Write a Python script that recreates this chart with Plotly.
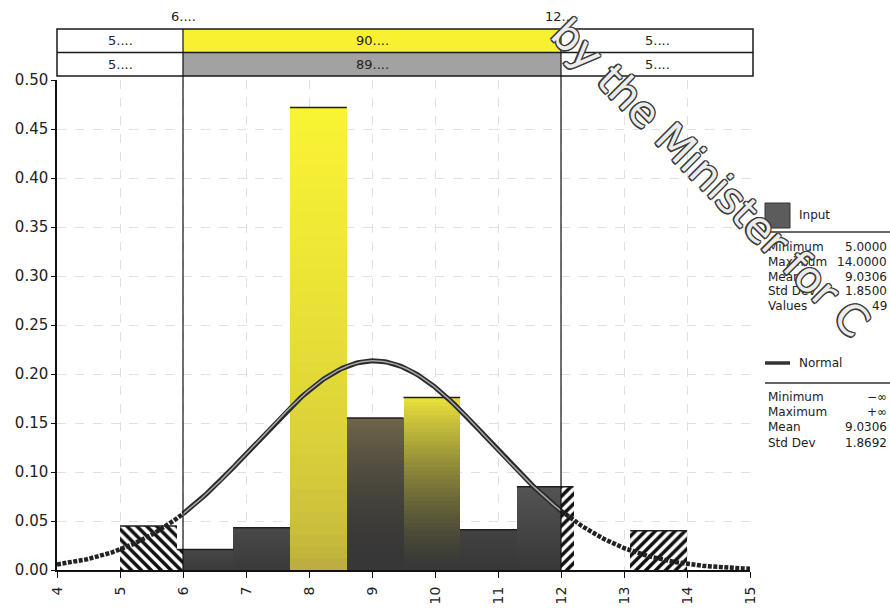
import numpy as np
import plotly.graph_objects as go

# ---- data -------------------------------------------------------------
bin_edges = [5.0, 5.9, 6.8, 7.7, 8.6, 9.5, 10.4, 11.3, 12.2, 13.1, 14.0]
bin_heights = [0.045, 0.021, 0.043, 0.472, 0.155, 0.176, 0.041, 0.085, 0.0, 0.040]

left_delimiter = 6.0
right_delimiter = 12.0
delimiter_labels = ["6....", "12...."]

band_row1_labels = ["5....", "90....", "5...."]
band_row2_labels = ["5....", "89....", "5...."]

normal_mean = 9.0306
normal_sd = 1.8692

x_ticks = [4, 5, 6, 7, 8, 9, 10, 11, 12, 13, 14, 15]
y_ticks = [0.00, 0.05, 0.10, 0.15, 0.20, 0.25, 0.30, 0.35, 0.40, 0.45, 0.50]

input_stat_names = ["Minimum", "Maximum", "Mean", "Std Dev", "Values"]
input_stat_values = ["5.0000", "14.0000", "9.0306", "1.8500", "49"]
normal_stat_names = ["Minimum", "Maximum", "Mean", "Std Dev"]
normal_stat_values = ["\u2212\u221e", "+\u221e", "9.0306", "1.8692"]

watermark_text = "by the Minister for C"

# ---- styles -----------------------------------------------------------
FONT = "DejaVu Sans"
TXT = "#222222"
# (bottom rgb, top rgb, gamma) for the solid part of each bin
bin_fill_styles = [
    ((58, 58, 58), (72, 72, 72), 1.0),
    ((58, 58, 58), (72, 72, 72), 1.0),
    ((58, 58, 58), (74, 74, 74), 1.0),
    ((178, 163, 66), (250, 244, 52), 0.45),
    ((55, 55, 55), (112, 102, 74), 1.8),
    ((56, 56, 56), (236, 226, 60), 1.4),
    ((56, 56, 56), (66, 66, 66), 1.0),
    ((56, 56, 56), (84, 84, 84), 1.0),
    ((56, 56, 56), (70, 70, 70), 1.0),
    ((56, 56, 56), (70, 70, 70), 1.0),
]
N_SEG = 40

PLOT_L, PLOT_R, PLOT_T, PLOT_B = 57, 750, 80, 570
W, H = 890, 608


def px_x(px):
    return (px - PLOT_L) / (PLOT_R - PLOT_L)


def px_y(py):
    return (PLOT_B - py) / (PLOT_B - PLOT_T)


fig = go.Figure()

# ---- histogram bars: split by the delimiters --------------------------
hatch_l = dict(x=[], y=[], w=[])
hatch_r = dict(x=[], y=[], w=[])
grad = dict(x=[], base=[], y=[], w=[], c=[])

for i in range(len(bin_heights)):
    lo, hi, h = bin_edges[i], bin_edges[i + 1], bin_heights[i]
    if h <= 0:
        continue
    if lo < left_delimiter:
        a, b = lo, min(hi, left_delimiter)
        hatch_l["x"].append((a + b) / 2); hatch_l["y"].append(h); hatch_l["w"].append(b - a)
    if hi > right_delimiter:
        a, b = max(lo, right_delimiter), hi
        hatch_r["x"].append((a + b) / 2); hatch_r["y"].append(h); hatch_r["w"].append(b - a)
    a, b = max(lo, left_delimiter), min(hi, right_delimiter)
    if b > a:
        bot, top, g = bin_fill_styles[i]
        for k in range(N_SEG):
            t = (k + 0.5) / N_SEG
            f = t ** g
            col = "rgb(%d,%d,%d)" % tuple(int(bot[j] + (top[j] - bot[j]) * f) for j in range(3))
            grad["x"].append((a + b) / 2)
            grad["base"].append(h * k / N_SEG)
            grad["y"].append(h / N_SEG * (1.0 if k == N_SEG - 1 else 1.05))
            grad["w"].append(b - a)
            grad["c"].append(col)

fig.add_trace(go.Bar(
    x=grad["x"], y=grad["y"], base=grad["base"], width=grad["w"],
    marker=dict(color=grad["c"], line=dict(width=0)), hoverinfo="skip"))

for d, shape in ((hatch_l, "\\"), (hatch_r, "/")):
    fig.add_trace(go.Bar(
        x=d["x"], y=d["y"], width=d["w"],
        marker=dict(color="white", line=dict(width=0),
                    pattern=dict(shape=shape, fgcolor="#111111", fgopacity=1,
                                 bgcolor="white", size=7, solidity=0.5)),
        hoverinfo="skip"))

# top edges of the bars
edge_x, edge_y = [], []
for i in range(len(bin_heights)):
    if bin_heights[i] > 0:
        edge_x += [bin_edges[i], bin_edges[i + 1], None]
        edge_y += [bin_heights[i], bin_heights[i], None]
fig.add_trace(go.Scatter(x=edge_x, y=edge_y, mode="lines",
                         line=dict(color="#1e1e1e", width=1.5), hoverinfo="skip"))

# ---- fitted normal curve ----------------------------------------------
xs = np.linspace(x_ticks[0], x_ticks[-1], 441)
pdf = np.exp(-0.5 * ((xs - normal_mean) / normal_sd) ** 2) / (normal_sd * np.sqrt(2 * np.pi))
inside = (xs >= left_delimiter) & (xs <= right_delimiter)
left_part = xs <= left_delimiter
right_part = xs >= right_delimiter

for mask in (left_part, right_part):
    fig.add_trace(go.Scatter(x=xs[mask], y=pdf[mask], mode="lines",
                             line=dict(color="#222222", width=4.5, dash="4px,1.5px"),
                             hoverinfo="skip"))
fig.add_trace(go.Scatter(x=xs[inside], y=pdf[inside], mode="lines",
                         line=dict(color="#2a2a2a", width=5), hoverinfo="skip"))
fig.add_trace(go.Scatter(x=xs[inside], y=pdf[inside], mode="lines",
                         line=dict(color="#a8a8a8", width=1.5), hoverinfo="skip"))

# delimiter handles above the band
fig.add_trace(go.Scatter(
    x=[left_delimiter, right_delimiter], y=[0.548, 0.548], mode="markers",
    marker=dict(symbol="triangle-down", size=10, color="#8a8a8a",
                line=dict(color="#333333", width=1)),
    cliponaxis=False, hoverinfo="skip"))

# ---- shapes: delimiter lines and the probability band -----------------
band_top, band_mid, band_bot = px_y(29), px_y(52.5), px_y(76)
shapes = [
    dict(type="rect", xref="x", yref="paper", x0=left_delimiter, x1=right_delimiter,
         y0=band_mid, y1=band_top, fillcolor="#f7f132", line=dict(width=0), layer="below"),
    dict(type="rect", xref="x", yref="paper", x0=left_delimiter, x1=right_delimiter,
         y0=band_bot, y1=band_mid, fillcolor="#a2a2a2", line=dict(width=0), layer="below"),
    dict(type="rect", xref="x domain", yref="paper", x0=0, x1=px_x(753),
         y0=band_bot, y1=band_top, line=dict(color="#1a1a1a", width=1.5), layer="below"),
    dict(type="line", xref="x domain", yref="paper", x0=0, x1=px_x(753),
         y0=band_mid, y1=band_mid, line=dict(color="#1a1a1a", width=1.5), layer="below"),
]
for xv in (left_delimiter, right_delimiter):
    shapes.append(dict(type="line", xref="x", yref="paper", x0=xv, x1=xv,
                       y0=0, y1=band_top, line=dict(color="#111111", width=1.2), layer="above"))

# legend panel shapes
shapes += [
    dict(type="rect", xref="paper", yref="paper", x0=px_x(765), x1=px_x(790),
         y0=px_y(228), y1=px_y(203), fillcolor="#5c5c5c", line=dict(color="#333", width=1)),
    dict(type="line", xref="paper", yref="paper", x0=px_x(765), x1=px_x(890),
         y0=px_y(232), y1=px_y(232), line=dict(color="#333", width=1.5)),
    dict(type="line", xref="paper", yref="paper", x0=px_x(765), x1=px_x(790),
         y0=px_y(363), y1=px_y(363), line=dict(color="#333", width=3.5)),
    dict(type="line", xref="paper", yref="paper", x0=px_x(765), x1=px_x(890),
         y0=px_y(383), y1=px_y(383), line=dict(color="#333", width=1.5)),
]

# ---- annotations -------------------------------------------------------
ann = []


def label(x, y, text, xref="paper", xanchor="center", size=12):
    ann.append(dict(x=x, y=y, xref=xref, yref="paper", text=text, showarrow=False,
                    xanchor=xanchor, yanchor="middle",
                    font=dict(family=FONT, size=size, color=TXT)))


row1_y, row2_y = (band_top + band_mid) / 2, (band_mid + band_bot) / 2
band_centers = [(x_ticks[0] + left_delimiter) / 2,
                (left_delimiter + right_delimiter) / 2,
                (right_delimiter + 15.05) / 2]
for cx, t1, t2 in zip(band_centers, band_row1_labels, band_row2_labels):
    label(cx, row1_y, t1, xref="x", size=13)
    label(cx, row2_y, t2, xref="x", size=13)
for xv, lab in zip((left_delimiter, right_delimiter), delimiter_labels):
    label(xv, px_y(16), lab, xref="x", size=13)

label(px_x(797), px_y(215), "Input", xanchor="left")
for k, (nm, vl) in enumerate(zip(input_stat_names, input_stat_values)):
    yy = px_y(247 + k * 14.8)
    label(px_x(766), yy, nm, xanchor="left")
    label(px_x(889), yy, vl, xanchor="right")
label(px_x(797), px_y(363), "Normal", xanchor="left")
for k, (nm, vl) in enumerate(zip(normal_stat_names, normal_stat_values)):
    yy = px_y(397 + k * 15.2)
    label(px_x(766), yy, nm, xanchor="left")
    label(px_x(889), yy, vl, xanchor="right")

# diagonal hollow stamp across the chart: dark copies around a light core
wm_x, wm_y = px_x(710), px_y(178)
offsets = [(-1.3, 0), (1.3, 0), (0, -1.3), (0, 1.3),
           (-1.0, -1.0), (1.0, -1.0), (-1.0, 1.0), (1.0, 1.0)]
for dx, dy in offsets + [(0, 0)]:
    core = (dx, dy) == (0, 0)
    ann.append(dict(x=wm_x, y=wm_y, xref="paper", yref="paper", text=watermark_text,
                    showarrow=False, textangle=45, xshift=dx, yshift=dy,
                    xanchor="center", yanchor="middle",
                    font=dict(family=FONT, size=42,
                              color="rgba(255,255,255,0.92)" if core else "#3c3c3c")))

fig.update_layout(
    width=W, height=H,
    margin=dict(l=PLOT_L, r=W - PLOT_R, t=PLOT_T, b=H - PLOT_B, autoexpand=False),
    paper_bgcolor="white", plot_bgcolor="white",
    barmode="overlay", bargap=0, showlegend=False,
    shapes=shapes, annotations=ann,
    font=dict(family=FONT, color=TXT),
    xaxis=dict(range=[x_ticks[0], x_ticks[-1]], tickvals=x_ticks, tickangle=-90,
               ticks="outside", ticklen=6, tickcolor="#111", showline=True,
               linecolor="#111", linewidth=2, zeroline=False, ticklabelstandoff=3,
               automargin=False,
               showgrid=True, gridcolor="#e0e0e0", griddash="dash", gridwidth=1,
               tickfont=dict(family=FONT, size=14, color=TXT)),
    yaxis=dict(range=[0, 0.5], tickvals=y_ticks, tickformat=".2f",
               ticks="outside", ticklen=4, tickcolor="#111", showline=True,
               linecolor="#111", linewidth=1.5, zeroline=False, automargin=False,
               showgrid=True, gridcolor="#e0e0e0", griddash="dash", gridwidth=1,
               tickfont=dict(family=FONT, size=15, color=TXT)),
)

fig.write_html("out.html")
